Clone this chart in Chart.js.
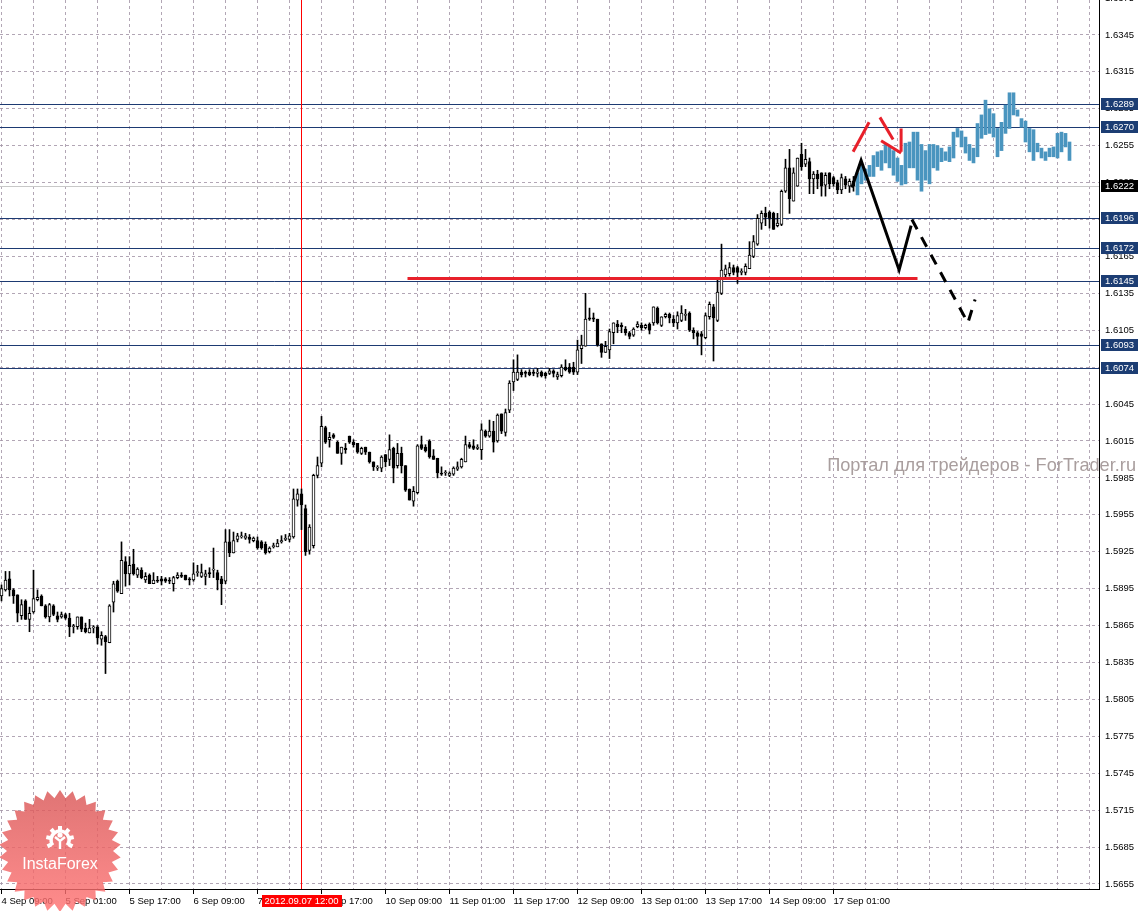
<!DOCTYPE html>
<html><head><meta charset="utf-8">
<script src="https://cdn.jsdelivr.net/npm/chart.js@4.4.1/dist/chart.umd.min.js"></script>
<style>html,body{margin:0;padding:0;background:#fff;overflow:hidden}canvas{display:block}</style>
</head><body>
<canvas id="c" width="1142" height="911" style="width:1142px;height:911px"></canvas>
<script>
// ---- DATA (GBPUSD H1) ----
const opens=[
1.5889,1.5894,1.5903,1.5894,1.5890,1.5873,1.5885,1.5870,1.5876,1.5886,
1.5889,1.5881,1.5872,1.5881,1.5873,1.5872,1.5874,1.5871,1.5864,1.5864,
1.5872,1.5863,1.5859,1.5863,1.5864,1.5854,1.5856,1.5851,1.5884,1.5901,
1.5891,1.5917,1.5907,1.5915,1.5906,1.5910,1.5902,1.5906,1.5899,1.5902,
1.5903,1.5903,1.5902,1.5899,1.5904,1.5906,1.5906,1.5903,1.5902,1.5908,
1.5905,1.5905,1.5908,1.5910,1.5908,1.5903,1.5901,1.5933,1.5924,1.5935,
1.5937,1.5936,1.5937,1.5934,1.5934,1.5933,1.5931,1.5925,1.5929,1.5929,
1.5933,1.5935,1.5935,1.5937,1.5967,1.5972,1.5960,1.5926,1.5930,1.5987,
1.5997,1.6026,1.6016,1.6020,1.6014,1.6005,1.6009,1.6019,1.6014,1.6013,
1.6005,1.6010,1.6006,1.5998,1.5993,1.5993,1.6004,1.6000,1.6009,1.5995,
1.6005,1.5995,1.5976,1.5966,1.5973,1.6012,1.6010,1.6015,1.6003,1.6001,
1.5989,1.5989,1.5987,1.5988,1.5992,1.5994,1.5998,1.6012,1.6011,1.6009,
1.6008,1.6023,1.6019,1.6023,1.6015,1.6037,1.6022,1.6040,1.6063,1.6065,
1.6071,1.6071,1.6071,1.6071,1.6070,1.6071,1.6070,1.6070,1.6072,1.6067,
1.6068,1.6075,1.6075,1.6075,1.6071,1.6090,1.6092,1.6115,1.6115,1.6114,
1.6094,1.6087,1.6089,1.6103,1.6110,1.6109,1.6106,1.6103,1.6101,1.6108,
1.6109,1.6107,1.6110,1.6111,1.6123,1.6109,1.6116,1.6118,1.6114,1.6111,
1.6113,1.6117,1.6119,1.6105,1.6103,1.6102,1.6099,1.6116,1.6124,1.6113,
1.6135,1.6150,1.6151,1.6156,1.6156,1.6152,1.6152,1.6155,1.6165,1.6175,
1.6192,1.6200,1.6201,1.6200,1.6190,1.6191,1.6218,1.6237,1.6210,1.6222,
1.6248,1.6240,1.6242,1.6228,1.6232,1.6233,1.6223,1.6233,1.6229,1.6225,
1.6219,1.6228,1.6222,1.6226];
const highs=[
1.5898,1.5909,1.5909,1.5895,1.5890,1.5886,1.5886,1.5880,1.5910,1.5894,
1.5890,1.5882,1.5883,1.5882,1.5876,1.5876,1.5875,1.5875,1.5866,1.5872,
1.5872,1.5867,1.5870,1.5865,1.5865,1.5860,1.5857,1.5882,1.5901,1.5902,
1.5933,1.5921,1.5921,1.5927,1.5912,1.5912,1.5908,1.5907,1.5908,1.5905,
1.5905,1.5904,1.5904,1.5905,1.5908,1.5908,1.5906,1.5904,1.5916,1.5914,
1.5915,1.5910,1.5912,1.5928,1.5910,1.5905,1.5943,1.5943,1.5941,1.5940,
1.5941,1.5940,1.5939,1.5937,1.5937,1.5934,1.5933,1.5929,1.5932,1.5935,
1.5938,1.5939,1.5940,1.5976,1.5976,1.5976,1.5963,1.5947,1.5988,1.6002,
1.6035,1.6027,1.6022,1.6021,1.6015,1.6010,1.6013,1.6019,1.6016,1.6013,
1.6010,1.6010,1.6006,1.5998,1.5995,1.6003,1.6004,1.6020,1.6010,1.6013,
1.6010,1.5995,1.5976,1.5978,1.6012,1.6019,1.6012,1.6016,1.6008,1.6001,
1.5994,1.5991,1.5990,1.5994,1.5998,1.6001,1.6019,1.6014,1.6016,1.6012,
1.6029,1.6024,1.6032,1.6031,1.6037,1.6037,1.6041,1.6064,1.6081,1.6085,
1.6073,1.6072,1.6073,1.6073,1.6074,1.6072,1.6071,1.6074,1.6073,1.6071,
1.6077,1.6081,1.6078,1.6079,1.6097,1.6101,1.6135,1.6123,1.6119,1.6114,
1.6094,1.6096,1.6106,1.6111,1.6113,1.6111,1.6108,1.6104,1.6107,1.6112,
1.6111,1.6110,1.6111,1.6124,1.6124,1.6116,1.6119,1.6119,1.6117,1.6120,
1.6125,1.6122,1.6120,1.6107,1.6104,1.6104,1.6119,1.6128,1.6126,1.6146,
1.6175,1.6158,1.6160,1.6158,1.6157,1.6155,1.6159,1.6177,1.6182,1.6199,
1.6202,1.6205,1.6202,1.6201,1.6200,1.6219,1.6244,1.6252,1.6237,1.6245,
1.6257,1.6252,1.6245,1.6234,1.6235,1.6233,1.6233,1.6233,1.6230,1.6227,
1.6232,1.6230,1.6228,1.6230];
const lows=[
1.5885,1.5893,1.5889,1.5883,1.5868,1.5870,1.5870,1.5860,1.5875,1.5885,
1.5881,1.5871,1.5868,1.5873,1.5868,1.5871,1.5870,1.5856,1.5859,1.5862,
1.5860,1.5859,1.5859,1.5859,1.5850,1.5849,1.5826,1.5851,1.5876,1.5892,
1.5891,1.5897,1.5898,1.5906,1.5904,1.5903,1.5900,1.5899,1.5899,1.5900,
1.5898,1.5900,1.5899,1.5893,1.5903,1.5904,1.5902,1.5898,1.5901,1.5905,
1.5904,1.5898,1.5904,1.5904,1.5894,1.5882,1.5899,1.5921,1.5924,1.5933,
1.5936,1.5935,1.5932,1.5933,1.5927,1.5927,1.5923,1.5924,1.5928,1.5929,
1.5932,1.5934,1.5933,1.5936,1.5962,1.5943,1.5922,1.5923,1.5928,1.5985,
1.5994,1.6013,1.6010,1.6017,1.6005,1.5996,1.6005,1.6013,1.6010,1.6005,
1.6004,1.6004,1.5997,1.5991,1.5991,1.5990,1.5994,1.5995,1.5981,1.5993,
1.5989,1.5974,1.5967,1.5962,1.5972,1.6008,1.6006,1.6001,1.6000,1.5985,
1.5987,1.5987,1.5986,1.5987,1.5991,1.5993,1.5998,1.6009,1.6008,1.6008,
1.6000,1.6018,1.6018,1.6006,1.6014,1.6021,1.6019,1.6038,1.6056,1.6064,
1.6067,1.6067,1.6068,1.6068,1.6067,1.6067,1.6066,1.6069,1.6067,1.6065,
1.6067,1.6072,1.6070,1.6069,1.6069,1.6078,1.6092,1.6113,1.6112,1.6092,
1.6083,1.6087,1.6082,1.6094,1.6103,1.6103,1.6101,1.6098,1.6100,1.6107,
1.6105,1.6106,1.6102,1.6109,1.6110,1.6108,1.6115,1.6111,1.6108,1.6106,
1.6112,1.6113,1.6104,1.6098,1.6093,1.6085,1.6098,1.6114,1.6080,1.6112,
1.6134,1.6147,1.6149,1.6150,1.6143,1.6150,1.6150,1.6155,1.6164,1.6174,
1.6187,1.6190,1.6188,1.6187,1.6189,1.6190,1.6217,1.6200,1.6210,1.6222,
1.6235,1.6238,1.6216,1.6216,1.6220,1.6214,1.6214,1.6220,1.6222,1.6216,
1.6216,1.6220,1.6217,1.6218];
const closes=[
1.5895,1.5902,1.5894,1.5889,1.5875,1.5882,1.5870,1.5875,1.5887,1.5888,
1.5881,1.5872,1.5882,1.5874,1.5870,1.5874,1.5871,1.5864,1.5864,1.5872,
1.5862,1.5860,1.5863,1.5864,1.5855,1.5857,1.5852,1.5881,1.5899,1.5893,
1.5918,1.5907,1.5914,1.5907,1.5911,1.5904,1.5905,1.5899,1.5902,1.5901,
1.5901,1.5901,1.5901,1.5904,1.5906,1.5905,1.5902,1.5902,1.5907,1.5908,
1.5908,1.5907,1.5907,1.5910,1.5902,1.5899,1.5933,1.5924,1.5934,1.5938,
1.5938,1.5938,1.5935,1.5936,1.5928,1.5928,1.5924,1.5928,1.5930,1.5932,
1.5934,1.5936,1.5938,1.5968,1.5972,1.5963,1.5925,1.5945,1.5987,1.5995,
1.6027,1.6014,1.6018,1.6018,1.6005,1.6010,1.6008,1.6014,1.6012,1.6006,
1.6009,1.6006,1.5998,1.5994,1.5993,1.6002,1.5998,1.6008,1.5993,1.6005,
1.5995,1.5975,1.5967,1.5974,1.6011,1.6009,1.6007,1.6002,1.6000,1.5989,
1.5988,1.5989,1.5989,1.5993,1.5994,1.6000,1.6012,1.6010,1.6009,1.6010,
1.6024,1.6019,1.6023,1.6014,1.6036,1.6023,1.6038,1.6062,1.6071,1.6071,
1.6069,1.6070,1.6069,1.6070,1.6071,1.6068,1.6068,1.6072,1.6070,1.6069,
1.6075,1.6073,1.6071,1.6071,1.6089,1.6093,1.6114,1.6114,1.6114,1.6093,
1.6087,1.6092,1.6104,1.6111,1.6108,1.6108,1.6103,1.6100,1.6106,1.6110,
1.6107,1.6109,1.6105,1.6124,1.6111,1.6116,1.6118,1.6115,1.6111,1.6117,
1.6119,1.6118,1.6105,1.6103,1.6100,1.6100,1.6117,1.6126,1.6115,1.6136,
1.6154,1.6155,1.6156,1.6152,1.6152,1.6153,1.6157,1.6166,1.6177,1.6196,
1.6200,1.6197,1.6196,1.6187,1.6192,1.6218,1.6237,1.6212,1.6233,1.6245,
1.6238,1.6244,1.6228,1.6232,1.6228,1.6222,1.6231,1.6224,1.6224,1.6219,
1.6229,1.6223,1.6226,1.6222];
// projected (blue) bars: high / low, starting at bar fcStart
const fcStart=214;
const fcHighs=[
1.6233,1.6239,1.6236,1.6239,1.6247,1.6250,1.6251,1.6256,1.6254,1.6251,
1.6245,1.6239,1.6257,1.6258,1.6266,1.6266,1.6256,1.6251,1.6256,1.6256,
1.6255,1.6253,1.6250,1.6254,1.6266,1.6269,1.6267,1.6262,1.6256,1.6253,
1.6273,1.6280,1.6292,1.6285,1.6281,1.6269,1.6274,1.6288,1.6298,1.6298,
1.6284,1.6277,1.6275,1.6269,1.6268,1.6257,1.6253,1.6250,1.6253,1.6254,
1.6265,1.6266,1.6265,1.6258];
const fcLows=[
1.6215,1.6224,1.6227,1.6230,1.6230,1.6238,1.6235,1.6241,1.6237,1.6231,
1.6226,1.6223,1.6224,1.6237,1.6237,1.6227,1.6218,1.6227,1.6224,1.6237,
1.6235,1.6242,1.6243,1.6242,1.6245,1.6262,1.6254,1.6249,1.6243,1.6241,
1.6246,1.6261,1.6264,1.6265,1.6262,1.6246,1.6251,1.6265,1.6269,1.6280,
1.6279,1.6270,1.6258,1.6250,1.6243,1.6250,1.6245,1.6243,1.6246,1.6246,
1.6245,1.6250,1.6254,1.6243];
const timeLabels=["4 Sep 09:00","5 Sep 01:00","5 Sep 17:00","6 Sep 09:00","7 Sep 01:00","7 Sep 17:00",
"10 Sep 09:00","11 Sep 01:00","11 Sep 17:00","12 Sep 09:00","13 Sep 01:00","13 Sep 17:00","14 Sep 09:00","17 Sep 01:00"];
const labelStep=16;
const priceTicks=[1.5655,1.5685,1.5715,1.5745,1.5775,1.5805,1.5835,1.5865,1.5895,1.5925,1.5955,1.5985,
1.6015,1.6045,1.6075,1.6105,1.6135,1.6165,1.6195,1.6225,1.6255,1.6285,1.6315,1.6345,1.6375];
const levels=[1.6289,1.6270,1.6196,1.6172,1.6145,1.6093,1.6074];
const currentPrice=1.6222;
const markerBar=75, markerLabel="2012.09.07 12:00";
const supportLine={from:101.5,to:229,price:1.6147};
const zigzagSolid=[{x:212.6,y:1.6221},{x:214.9,y:1.6243},{x:224.4,y:1.6154},{x:227.4,y:1.6190}];
const zigzagDashed=[{x:227.6,y:1.6195},{x:241.6,y:1.6111},{x:243.4,y:1.6130}];
const redSeg1=[{x:212.9,y:1.6250},{x:216.9,y:1.6274}];
const redSeg2=[{x:219.6,y:1.6278},{x:222.9,y:1.6260}];
const redHead1=[{x:219.9,y:1.6259},{x:224.9,y:1.6249}];
const redHead2=[{x:224.9,y:1.6269},{x:224.9,y:1.6250}];
const X_MIN=-0.375, X_MAX=274.375, Y_MIN=1.56509, Y_MAX=1.63734;

// ---- CHART ----
Chart.defaults.font.family='"Liberation Sans", Arial, sans-serif';
Chart.defaults.font.size=9.5;
const GRID='rgba(165,150,168,0.85)';
const lineDS=(data,color,width,order,dash)=>({type:'line',data,borderColor:color,borderWidth:width,pointRadius:0,
  tension:0,fill:false,order,borderDash:dash||[],xAxisID:'x',yAxisID:'y',borderCapStyle:'butt'});

const datasets=[
  lineDS(zigzagSolid,'#000',3,0),
  lineDS(zigzagDashed,'#000',3,0,[11,9]),
  lineDS(redSeg1,'#e8202a',3,0),
  lineDS(redSeg2,'#e8202a',3,0),
  lineDS(redHead1,'#e8202a',3,0),
  lineDS(redHead2,'#e8202a',3,0),
  lineDS([{x:supportLine.from,y:supportLine.price},{x:supportLine.to,y:supportLine.price}],'#e8202a',3,1),
  {type:'bar',data:fcHighs.map((h,j)=>({x:fcStart+j,y:[fcLows[j],h]})),backgroundColor:'#4a95bf',
    barThickness:3,grouped:false,order:2,xAxisID:'x',yAxisID:'y'},
  {type:'bar',data:opens.map((o,i)=>({x:i,y:[o,closes[i]]})),
    backgroundColor:c=>{const i=c.dataIndex;return closes[i]>=opens[i]?'#fff':'#000';},
    borderColor:'#000',borderWidth:1,borderSkipped:false,barThickness:3,minBarLength:1,grouped:false,order:3,xAxisID:'x',yAxisID:'y'},
  {type:'bar',data:lows.map((l,i)=>({x:i,y:[l,highs[i]]})),backgroundColor:'#000',
    barThickness:1,grouped:false,order:4,xAxisID:'x',yAxisID:'y'},
  lineDS([{x:markerBar,y:Y_MIN-1},{x:markerBar,y:Y_MAX+1}],'#ff0000',1,9)
];

// crisp horizontal price levels, positioned through the y scale
const levelLines={
  id:'levelLines',
  beforeDatasetsDraw(chart){
    const {ctx,chartArea:a,scales:{y}}=chart;
    ctx.save(); ctx.lineWidth=1;
    const hl=(v,col)=>{const py=Math.round(y.getPixelForValue(v))+0.5; ctx.strokeStyle=col;
      ctx.beginPath(); ctx.moveTo(a.left,py); ctx.lineTo(a.right,py); ctx.stroke();};
    hl(currentPrice,'#c8c8c8');
    levels.forEach(v=>hl(v,'#1d3a72'));
    ctx.restore();
  }
};

const overlay={
  id:'overlay',
  afterDraw(chart){
    const {ctx,chartArea:a,scales:{x,y}}=chart;
    ctx.save();
    ctx.font='9.5px "Liberation Sans", Arial, sans-serif';
    ctx.textBaseline='middle'; ctx.textAlign='left';
    const box=(v,bg)=>{const py=Math.round(y.getPixelForValue(v));
      ctx.fillStyle=bg; ctx.fillRect(a.right+2,py-6,37,12);
      ctx.fillStyle='#fff'; ctx.fillText(v.toFixed(4),a.right+6,py+0.5);};
    levels.forEach(v=>box(v,'#1c3d73'));
    box(currentPrice,'#000');
    // time marker box
    const px=x.getPixelForValue(markerBar);
    ctx.fillStyle='#ff0000'; ctx.fillRect(Math.round(px-40),a.bottom+6,80,12);
    ctx.fillStyle='#fff'; ctx.textAlign='center'; ctx.fillText(markerLabel,px,a.bottom+12.5);
    // watermark
    ctx.fillStyle='#a99e9e'; ctx.textAlign='right'; ctx.textBaseline='alphabetic';
    let fs=16; const wm='Портал для трейдеров - ForTrader.ru';
    ctx.font=fs+'px "Liberation Sans", Arial, sans-serif';
    fs=fs*309/ctx.measureText(wm).width; ctx.font=fs.toFixed(2)+'px "Liberation Sans", Arial, sans-serif';
    ctx.fillText(wm,1136,471);
    // InstaForex badge
    const cx=60,cy=851,R=61,r=53,n=30;
    ctx.globalAlpha=0.82;
    const g=ctx.createLinearGradient(0,cy-R,0,cy+R); g.addColorStop(0,'#d95656'); g.addColorStop(1,'#ff7272');
    ctx.fillStyle=g; ctx.beginPath();
    for(let k=0;k<2*n;k++){const ang=-Math.PI/2+k*Math.PI/n, rr=k%2?r:R; ctx.lineTo(cx+rr*Math.cos(ang),cy+rr*Math.sin(ang));}
    ctx.closePath(); ctx.fill();
    ctx.globalAlpha=1;
    ctx.strokeStyle='#fff'; ctx.fillStyle='#fff'; ctx.lineWidth=3.5;
    ctx.beginPath(); ctx.arc(60,840,9,Math.PI*0.8,Math.PI*2.2); ctx.stroke();
    for(let k=0;k<7;k++){const ang=Math.PI*0.85+k*Math.PI*1.3/6; ctx.save(); ctx.translate(60+12*Math.cos(ang),840+12*Math.sin(ang)); ctx.rotate(ang); ctx.fillRect(-2,-2,4,4); ctx.restore();}
    ctx.beginPath(); ctx.arc(60,835,2.6,0,Math.PI*2); ctx.fill();
    ctx.lineWidth=2.4; ctx.beginPath(); ctx.moveTo(55,837); ctx.lineTo(60,841); ctx.lineTo(65,837); ctx.moveTo(60,840); ctx.lineTo(60,849); ctx.stroke();
    ctx.font='16px "Liberation Sans", Arial, sans-serif'; ctx.textAlign='center'; ctx.textBaseline='alphabetic';
    ctx.fillText('InstaForex',60,869);
    ctx.restore();
  }
};

const noPad=s=>{s.paddingTop=0;s.paddingBottom=0;s.paddingLeft=0;s.paddingRight=0;};
new Chart(document.getElementById('c'),{
  type:'bar',
  data:{datasets},
  options:{
    responsive:false,animation:false,devicePixelRatio:1,events:[],
    layout:{padding:0},
    plugins:{legend:{display:false},tooltip:{enabled:false}},
    scales:{
      x:{type:'linear',position:'bottom',min:X_MIN,max:X_MAX,offset:false,
        afterBuildTicks:s=>{s.ticks=timeLabels.map((_,k)=>({value:k*labelStep}));},
        afterFit:s=>{s.height=22;noPad(s);},
        ticks:{callback:(v,i)=>timeLabels[i],align:'start',autoSkip:false,maxRotation:0,minRotation:0,padding:2,color:'#000'},
        grid:{drawOnChartArea:false,drawTicks:true,tickLength:5,color:'#000',offset:false},
        border:{display:true,color:'#000',width:1}},
      xg:{type:'linear',position:'top',min:X_MIN,max:X_MAX,offset:false,
        afterBuildTicks:s=>{const t=[];for(let v=0;v<=X_MAX;v+=labelStep/2)t.push({value:v});s.ticks=t;},
        afterFit:s=>{s.height=0;noPad(s);},
        ticks:{display:false},grid:{color:GRID,drawTicks:false,offset:false},border:{display:false,dash:[3,3]}},
      y:{type:'linear',position:'right',min:Y_MIN,max:Y_MAX,beginAtZero:false,
        afterBuildTicks:s=>{s.ticks=priceTicks.map(v=>({value:v}));},
        afterFit:s=>{s.width=43;noPad(s);},
        ticks:{callback:v=>v.toFixed(4),padding:6,color:'#000',autoSkip:false},
        grid:{color:GRID,drawTicks:false},
        border:{display:true,color:'#000',width:1,dash:[3,3]}}
    }
  },
  plugins:[levelLines,overlay]
});
</script>
</body></html>
